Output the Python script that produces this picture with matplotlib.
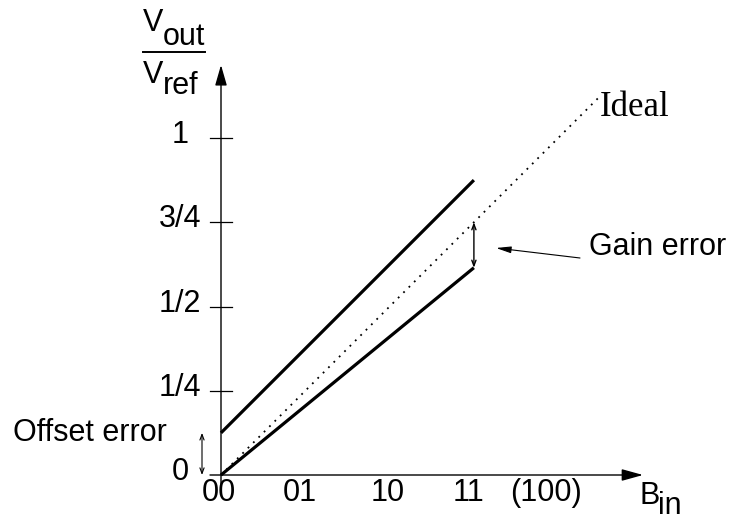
import matplotlib
matplotlib.use("Agg")
import matplotlib.pyplot as plt

# ---- data ----
codes = [0, 1, 2, 3, 4]
x_labels = ["00", "01", "10", "11", "(100)"]
y_ticks = [0, 0.25, 0.5, 0.75, 1.0]
y_labels = ["0", "1/4", "1/2", "3/4", "1"]
ideal_x = [0, 4.5]
ideal_y = [0, 1.125]
offset_x = [0, 3]
offset_y = [0.125, 0.875]
gain_x = [0, 3]
gain_y = [0, 0.615]

# ---- layout helpers (pixel -> data) ----
W, H = 733, 523
X0, Y0 = 221, 475
SX, SY = 84.3, 337.0
def X(px):
    return (px - X0) / SX
def Y(py):
    return (Y0 - py) / SY

fig = plt.figure(figsize=(W / 100, H / 100), dpi=100)
ax = fig.add_axes([0, 0, 1, 1])
ax.set_xlim(X(0), X(W))
ax.set_ylim(Y(H), Y(0))
ax.axis("off")

sans = "Liberation Sans"
serif = "Liberation Serif"
fs = 22
k = "black"

# axes
ax.annotate("", xy=(X(643), 0), xytext=(X(210), 0),
            arrowprops=dict(arrowstyle="-|>,head_length=1.3,head_width=0.36",
                            mutation_scale=10, lw=1.0, color=k,
                            shrinkA=0, shrinkB=0))
ax.annotate("", xy=(0, Y(65)), xytext=(0, Y(485)),
            arrowprops=dict(arrowstyle="-|>,head_length=1.25,head_width=0.36",
                            mutation_scale=10, lw=1.0, color=k,
                            shrinkA=0, shrinkB=0))

# y ticks and labels
for yt, lab in zip(y_ticks, y_labels):
    if yt > 0:
        ax.plot([X(210), X(232)], [yt, yt], color=k, lw=0.9)
        ypos = yt + Y(Y0 - 3)
    else:
        ypos = Y(472)
    ax.text(X(180), ypos, lab, ha="center", va="center",
            fontsize=fs, family=sans)

# x labels
nudges = [-0.02, -0.06, -0.02, -0.06, -0.14]
for c, lab, n in zip(codes, x_labels, nudges):
    ax.text(c + n, Y(493), lab, ha="center", va="center",
            fontsize=fs, family=sans)

# lines
ax.plot(ideal_x, ideal_y, color=k, lw=1.3, dashes=(1, 3.2))
ax.plot(offset_x, offset_y, color=k, lw=2.3, solid_capstyle="butt")
ax.plot(gain_x, gain_y, color=k, lw=2.3, solid_capstyle="butt")

# Ideal label
ax.text(X(635), Y(108), "Ideal", ha="center", va="center",
        fontsize=25, family=serif)

# Gain error bar
ax.annotate("", xy=(gain_x[-1], ideal_y[-1] * gain_x[-1] / ideal_x[-1]),
            xytext=(gain_x[-1], gain_y[-1]),
            arrowprops=dict(arrowstyle="<->,head_length=0.4,head_width=0.15",
                            mutation_scale=10, lw=1.0, color=k,
                            shrinkA=0, shrinkB=0))
ax.annotate("", xy=(X(496), Y(248)), xytext=(X(580), Y(258)),
            arrowprops=dict(arrowstyle="-|>,head_length=0.9,head_width=0.2",
                            mutation_scale=10, lw=0.8, color=k,
                            shrinkA=0, shrinkB=0))
ax.text(X(658), Y(247), "Gain error", ha="center", va="center",
        fontsize=fs, family=sans)

# Offset error
ax.annotate("", xy=(X(202), offset_y[0]), xytext=(X(202), 0),
            arrowprops=dict(arrowstyle="<->,head_length=0.4,head_width=0.15",
                            mutation_scale=10, lw=0.8, color=k,
                            shrinkA=0, shrinkB=0))
ax.text(X(90), Y(433), "Offset error", ha="center", va="center",
        fontsize=fs, family=sans)

# B_in label
ax.text(X(640), Y(504), "B", ha="left", va="baseline", fontsize=fs, family=sans)
ax.text(X(658), Y(514), "in", ha="left", va="baseline", fontsize=fs, family=sans)

# Vout / Vref label
ax.text(X(143), Y(31), "V", ha="left", va="baseline", fontsize=fs, family=sans)
ax.text(X(163), Y(45), "out", ha="left", va="baseline", fontsize=fs, family=sans)
ax.plot([X(143), X(205)], [Y(52), Y(52)], color=k, lw=1.4)
ax.text(X(143), Y(83), "V", ha="left", va="baseline", fontsize=fs, family=sans)
ax.text(X(163), Y(94), "ref", ha="left", va="baseline", fontsize=fs, family=sans)

fig.savefig("out.png", dpi=100)
